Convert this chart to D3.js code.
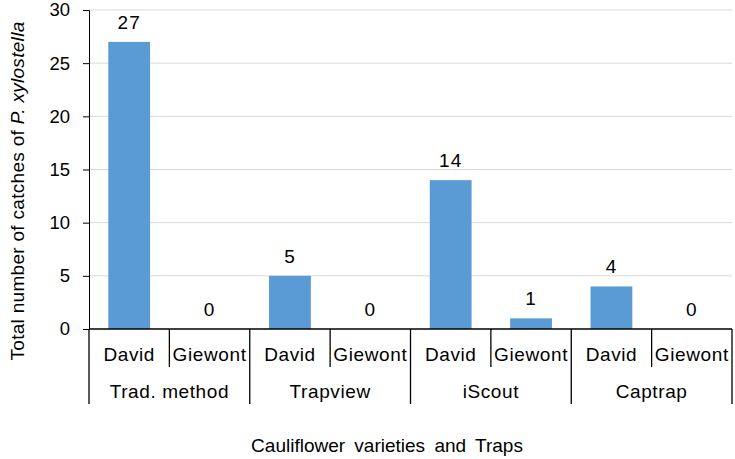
<!DOCTYPE html>
<html>
<head>
<meta charset="utf-8">
<script src="https://cdn.jsdelivr.net/npm/d3@7"></script>
<style>
  body { margin: 0; background: #fff; }
  text { font-family: "Liberation Sans", Arial, sans-serif; fill: #000; }
</style>
</head>
<body>
<svg id="chart" width="735" height="459"></svg>
<script>
// data
const traps = ['Trad. method', 'Trapview', 'iScout', 'Captrap'];
const varieties = ['David', 'Giewont'];
const catches = [27, 0, 5, 0, 14, 1, 4, 0];
const yTicks = [0, 5, 10, 15, 20, 25, 30];

const svg = d3.select('#chart');
const plotLeft = 89, plotRight = 732, plotTop = 10, plotBottom = 329;

// one slot per trap/variety pair
const slots = [];
traps.forEach(t => varieties.forEach(v => slots.push({trap: t, variety: v})));
slots.forEach((d, i) => d.value = catches[i]);

const x = d3.scaleBand()
    .domain(d3.range(slots.length))
    .range([plotLeft, plotRight])
    .paddingInner(0.48)
    .paddingOuter(0.24);
const slot = d3.scaleBand()
    .domain(d3.range(slots.length))
    .range([plotLeft, plotRight]);
const group = d3.scaleBand()
    .domain(traps)
    .range([plotLeft, plotRight]);
const y = d3.scaleLinear()
    .domain([0, 30])
    .range([plotBottom, plotTop]);

// gridlines
svg.append('g')
    .selectAll('line')
    .data(yTicks.filter(d => d > 0))
    .enter()
    .append('line')
    .attr('x1', plotLeft)
    .attr('x2', plotRight)
    .attr('y1', d => y(d))
    .attr('y2', d => y(d))
    .attr('stroke', '#d9d9d9')
    .attr('stroke-width', 1);

// bars
svg.append('g')
    .selectAll('rect')
    .data(slots)
    .enter()
    .append('rect')
    .attr('x', (_, i) => x(i))
    .attr('width', x.bandwidth())
    .attr('y', d => y(d.value))
    .attr('height', d => y(0) - y(d.value))
    .attr('fill', '#5b9bd5');

// value labels
svg.append('g')
    .selectAll('text')
    .data(slots)
    .enter()
    .append('text')
    .attr('x', (_, i) => x(i) + x.bandwidth() / 2)
    .attr('y', d => y(d.value) - 13)
    .attr('text-anchor', 'middle')
    .style('font-size', '19px')
    .style('letter-spacing', '1px')
    .text(d => d.value);

// y axis
const yAxis = svg.append('g')
    .attr('transform', `translate(${plotLeft},0)`)
    .call(d3.axisLeft(y).tickValues(yTicks).tickSize(6).tickPadding(13));
yAxis.attr('font-family', null).attr('font-size', null);
yAxis.select('.domain').attr('stroke', '#000');
yAxis.selectAll('.tick line').attr('stroke', '#000');
yAxis.selectAll('.tick text')
    .style('font-size', '18.5px')
    .attr('fill', '#000');

// x axis baseline
svg.append('line')
    .attr('x1', plotLeft)
    .attr('x2', plotRight)
    .attr('y1', plotBottom)
    .attr('y2', plotBottom)
    .attr('stroke', '#000')
    .attr('stroke-width', 1.3);

// separators between varieties (short) and between traps (long)
const bounds = d3.range(slots.length + 1).map(i => i < slots.length ? slot(i) : plotRight);
svg.append('g')
    .selectAll('line')
    .data(bounds)
    .enter()
    .append('line')
    .attr('x1', d => d)
    .attr('x2', d => d)
    .attr('y1', plotBottom)
    .attr('y2', (_, i) => i % 2 == 0 ? 404 : 367)
    .attr('stroke', '#000')
    .attr('stroke-width', 1.3);

// variety labels
svg.append('g')
    .selectAll('text')
    .data(slots)
    .enter()
    .append('text')
    .attr('x', (_, i) => slot(i) + slot.bandwidth() / 2)
    .attr('y', 361)
    .attr('text-anchor', 'middle')
    .style('font-size', '19px')
    .style('letter-spacing', '0.6px')
    .text(d => d.variety);

// trap labels
svg.append('g')
    .selectAll('text')
    .data(traps)
    .enter()
    .append('text')
    .attr('x', d => group(d) + group.bandwidth() / 2)
    .attr('y', 398)
    .attr('text-anchor', 'middle')
    .style('font-size', '19px')
    .style('letter-spacing', '0.6px')
    .text(d => d);

// axis titles
svg.append('text')
    .attr('x', 387)
    .attr('y', 452)
    .attr('text-anchor', 'middle')
    .style('font-size', '19px')
    .style('word-spacing', '4px')
    .text('Cauliflower varieties and Traps');

const yTitle = svg.append('text')
    .attr('transform', 'translate(24,191) rotate(-90)')
    .attr('text-anchor', 'middle')
    .style('font-size', '19px')
    .style('letter-spacing', '0.3px');
yTitle.append('tspan').text('Total number of catches of ');
yTitle.append('tspan').style('font-style', 'italic').text('P. xylostella');
</script>
</body>
</html>
